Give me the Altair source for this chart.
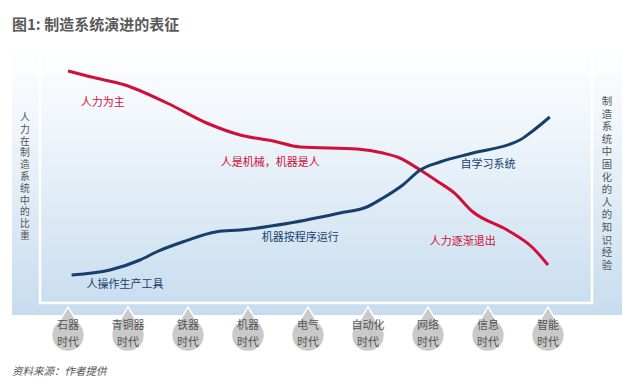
import altair as alt
import pandas as pd

FONT = "Noto Sans CJK SC"

# ---- data ----
eras = ["石器\n时代", "青铜器\n时代", "铁器\n时代", "机器\n时代", "电气\n时代",
        "自动化\n时代", "网络\n时代", "信息\n时代", "智能\n时代"]
era_pos = list(range(9))

red_x = [0.0, 0.37, 0.95, 1.65, 2.31, 2.87, 3.42, 3.87, 4.82, 5.25, 5.53, 5.87,
         6.2, 6.42, 6.75, 7.32, 7.75, 8.0]
red_y = [92.4, 90.1, 86.8, 79.6, 71.6, 66.8, 64.4, 62.0, 61.2, 59.6, 57.6, 52.8,
         47.6, 44.0, 36.0, 28.8, 21.6, 14.8]
blue_x = [0.06, 0.7, 1.2, 1.48, 1.92, 2.48, 2.87, 3.7, 4.53, 4.98, 5.25, 5.58,
          5.87, 6.2, 6.75, 7.53, 7.7, 8.03]
blue_y = [10.8, 12.8, 16.8, 20.1, 24.1, 28.1, 28.8, 31.6, 35.6, 38.0, 41.6, 46.8,
          52.8, 56.0, 59.6, 64.8, 67.6, 74.0]

label_text = ["人力为主", "人是机械，机器是人", "人力逐渐退出",
              "人操作生产工具", "机器按程序运行", "自学习系统"]
label_x = [0.58, 3.37, 6.58, 0.95, 3.87, 7.0]
label_y = [79.6, 55.6, 24.0, 6.8, 25.6, 54.8]
label_series = ["red", "red", "red", "blue", "blue", "blue"]

title_text = "图1: 制造系统演进的表征"
source_text = "资料来源：作者提供"
left_title = "人力在制造系统中的比重"
right_title = "制造系统中固化的人的知识经验"

# ---- tables ----
lines_df = pd.DataFrame(
    [{"x": x, "y": y, "s": "red", "o": i} for i, (x, y) in enumerate(zip(red_x, red_y))]
    + [{"x": x, "y": y, "s": "blue", "o": i} for i, (x, y) in enumerate(zip(blue_x, blue_y))]
)
labels_df = pd.DataFrame({"t": label_text, "x": label_x, "y": label_y, "s": label_series})
eras_df = pd.DataFrame({"era": eras, "x": era_pos})
one = pd.DataFrame({"a": [0]})

xs = alt.Scale(domain=[0, 8], range=[60, 540], nice=False, zero=False)
ys = alt.Scale(domain=[0, 100], range=[294, 44], nice=False, zero=False)

grad = alt.LinearGradient(
    gradient="linear",
    stops=[alt.GradientStop(color="#ffffff", offset=0),
           alt.GradientStop(color="#f0f6fb", offset=0.3),
           alt.GradientStop(color="#c6dcee", offset=1)],
    x1=0, x2=0, y1=0, y2=1,
)

bg = alt.Chart(one).mark_rect(fill=grad).encode(
    x=alt.value(4), x2=alt.value(614), y=alt.value(37), y2=alt.value(307)
)
panel = alt.Chart(one).mark_rect(fillOpacity=0, stroke="white", strokeWidth=2.5).encode(
    x=alt.value(32), x2=alt.value(584), y=alt.value(47), y2=alt.value(295)
)

lines = alt.Chart(lines_df).mark_line(strokeWidth=3, interpolate="monotone").encode(
    x=alt.X("x:Q", scale=xs, axis=None),
    y=alt.Y("y:Q", scale=ys, axis=None),
    color=alt.Color("s:N", scale=alt.Scale(domain=["red", "blue"], range=["#d0103a", "#173f6e"]), legend=None),
    order="o:Q",
)

labels = alt.Chart(labels_df).mark_text(font=FONT, fontSize=11, align="center", baseline="middle").encode(
    x=alt.X("x:Q", scale=xs, axis=None),
    y=alt.Y("y:Q", scale=ys, axis=None),
    text="t:N",
    color=alt.Color("s:N", scale=alt.Scale(domain=["red", "blue"], range=["#d8365a", "#2f5f8f"]), legend=None),
)

TEAR = "M0,-1 L0.37,-0.383 A0.74,0.74 0 1 1 -0.37,-0.383 Z"
drops = alt.Chart(eras_df).mark_point(
    shape=TEAR, size=1989, filled=True, fill="#c9c9c9", stroke="white", strokeWidth=1.5, opacity=1
).encode(
    x=alt.X("x:Q", scale=xs, axis=None),
    y=alt.value(321.3),
)
era_text = alt.Chart(eras_df).mark_text(
    font=FONT, fontSize=11, lineBreak="\n", lineHeight=17, align="center", baseline="middle", color="#555555"
).encode(
    x=alt.X("x:Q", scale=xs, axis=None),
    y=alt.value(317.5),
    text="era:N",
)

title = alt.Chart(one).mark_text(
    text=title_text, font=FONT, fontSize=15, fontWeight="bold", color="#5a5a5a", align="left", baseline="middle"
).encode(x=alt.value(4), y=alt.value(17))
source = alt.Chart(one).mark_text(
    text=source_text, font=FONT, fontSize=10.5, fontStyle="italic", color="#555555", align="left", baseline="middle"
).encode(x=alt.value(4), y=alt.value(364))
ltitle = alt.Chart(one).mark_text(
    text="\n".join(left_title), lineBreak="\n", lineHeight=11.8, font=FONT, fontSize=9.8,
    color="#555555", align="center", baseline="top"
).encode(x=alt.value(17), y=alt.value(105))
rtitle = alt.Chart(one).mark_text(
    text="\n".join(right_title), lineBreak="\n", lineHeight=12.6, font=FONT, fontSize=10.4,
    color="#555555", align="center", baseline="top"
).encode(x=alt.value(599), y=alt.value(89))

chart = alt.layer(
    bg, panel, lines, labels, drops, era_text, title, source, ltitle, rtitle
).properties(
    width=628, height=376,
    autosize=alt.AutoSizeParams(type="none"),
    padding=0,
    background="white",
).configure_view(stroke=None)

chart.save("out.html", embed_options={"renderer": "svg", "actions": False})
